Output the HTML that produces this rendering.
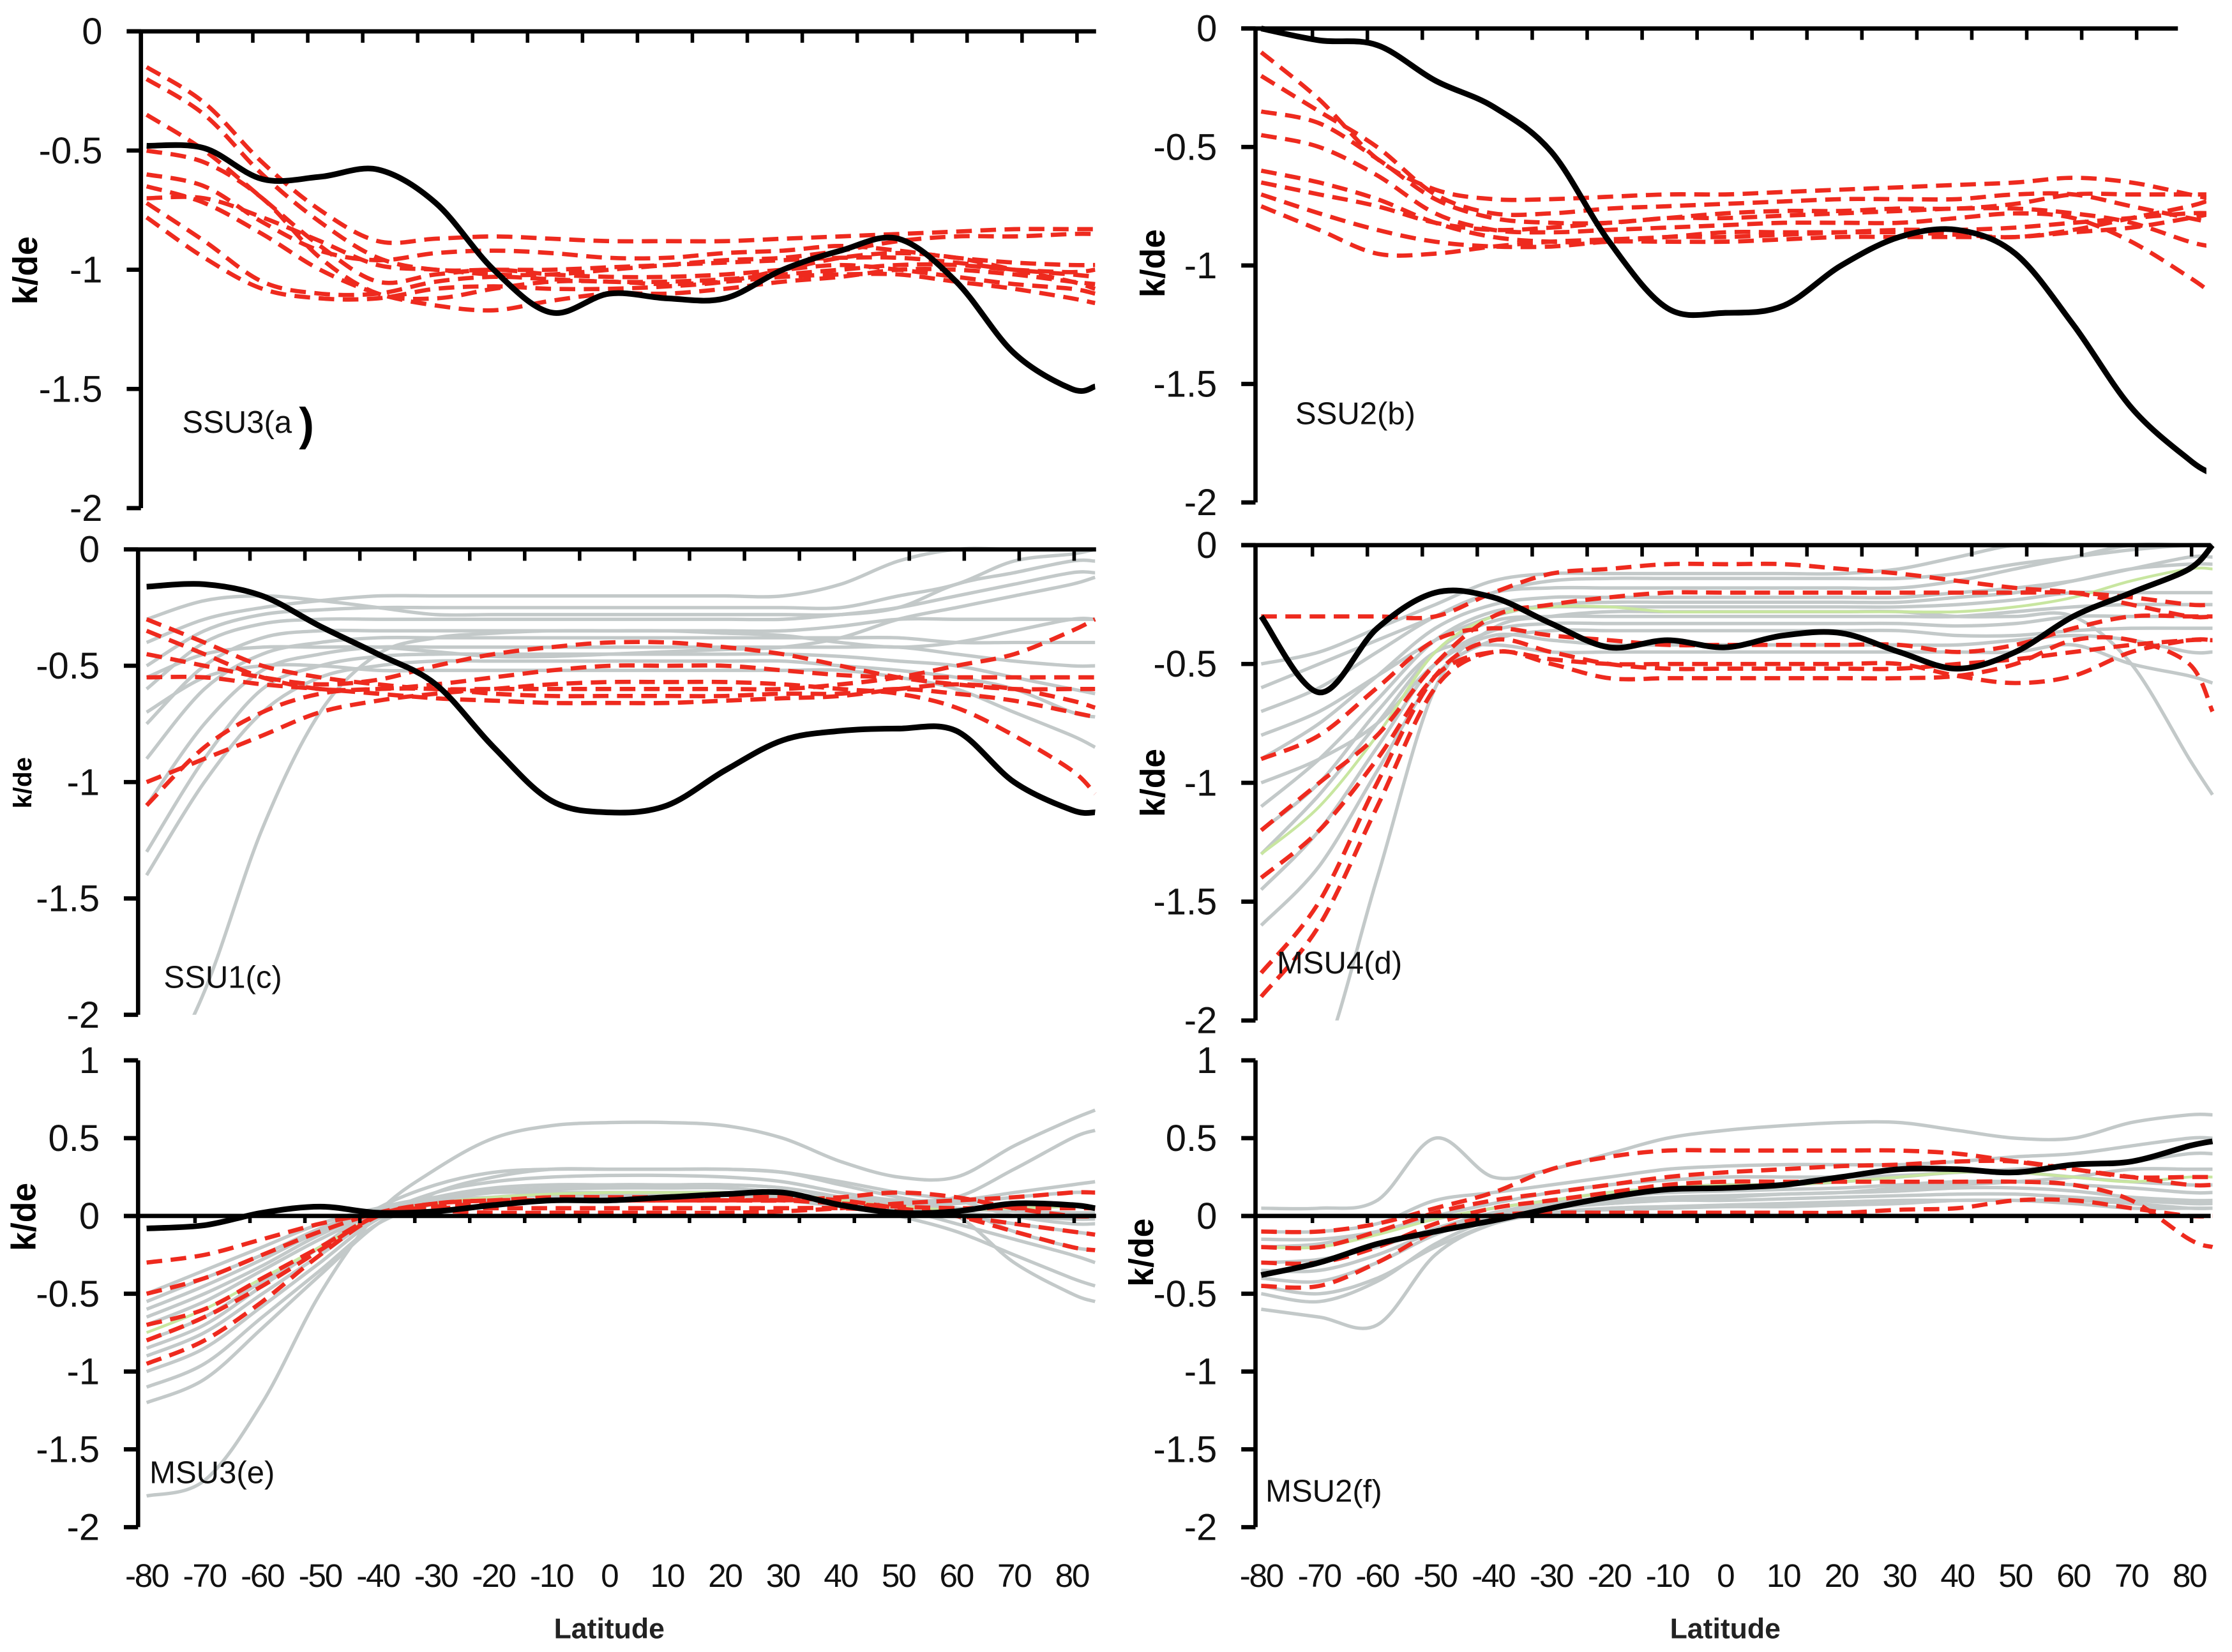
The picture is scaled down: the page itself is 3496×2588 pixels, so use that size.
<!DOCTYPE html>
<html><head><meta charset="utf-8"><style>html,body{margin:0;padding:0;background:#fff}svg{display:block}</style></head>
<body>
<svg id="chart" xmlns="http://www.w3.org/2000/svg" width="3496" height="2588" viewBox="0 0 1568 1160.7" font-family="Liberation Sans, sans-serif"></svg>
<script>
const lats=[-80,-70,-60,-50,-40,-30,-20,-10,0,10,20,30,40,50,60,70,80,84];
const xTickLabels=[-80,-70,-60,-50,-40,-30,-20,-10,0,10,20,30,40,50,60,70,80];
const yTicksNeg=[0,-0.5,-1,-1.5,-2];
const yTicksPos=[1,0.5,0,-0.5,-1,-1.5,-2];

const aBlack=[-0.48,-0.49,-0.62,-0.61,-0.58,-0.72,-1.0,-1.18,-1.1,-1.12,-1.12,-1.0,-0.92,-0.87,-1.05,-1.35,-1.5,-1.49];
const aRed=[
[-0.15,-0.3,-0.55,-0.75,-0.88,-0.87,-0.86,-0.87,-0.88,-0.88,-0.88,-0.87,-0.86,-0.85,-0.84,-0.83,-0.83,-0.83],
[-0.2,-0.35,-0.6,-0.8,-0.95,-1.0,-1.0,-1.0,-0.99,-0.98,-0.97,-0.96,-0.95,-0.95,-0.97,-1.0,-1.02,-1.03],
[-0.35,-0.5,-0.7,-0.9,-1.05,-1.02,-1.0,-1.02,-1.03,-1.03,-1.02,-1.0,-0.98,-1.0,-1.03,-1.06,-1.08,-1.1],
[-0.5,-0.55,-0.7,-0.95,-1.1,-1.12,-1.08,-1.05,-1.05,-1.06,-1.05,-1.03,-1.02,-1.02,-1.05,-1.08,-1.12,-1.14],
[-0.65,-0.72,-0.85,-1.0,-1.1,-1.15,-1.17,-1.13,-1.1,-1.1,-1.08,-1.05,-1.03,-1.0,-1.0,-1.02,-1.05,-1.06],
[-0.72,-0.88,-1.05,-1.1,-1.1,-1.05,-1.03,-1.04,-1.05,-1.05,-1.04,-1.02,-1.0,-0.98,-0.98,-1.0,-1.01,-1.0],
[-0.78,-0.95,-1.08,-1.12,-1.12,-1.08,-1.07,-1.08,-1.08,-1.07,-1.05,-1.0,-0.95,-0.93,-0.95,-1.0,-1.05,-1.08],
[-0.6,-0.65,-0.8,-0.92,-0.96,-0.93,-0.92,-0.93,-0.95,-0.95,-0.93,-0.92,-0.9,-0.92,-0.95,-0.97,-0.98,-0.98],
[-0.7,-0.7,-0.78,-0.88,-0.98,-1.0,-1.02,-1.02,-1.0,-0.98,-0.96,-0.95,-0.92,-0.88,-0.86,-0.86,-0.85,-0.85]];

const bBlack=[0.0,-0.05,-0.07,-0.22,-0.33,-0.52,-0.9,-1.18,-1.2,-1.17,-1.0,-0.88,-0.85,-0.95,-1.25,-1.6,-1.82,-1.88];
const bRed=[
[-0.1,-0.3,-0.55,-0.68,-0.72,-0.72,-0.71,-0.7,-0.7,-0.69,-0.68,-0.67,-0.66,-0.65,-0.63,-0.65,-0.7,-0.72],
[-0.2,-0.35,-0.5,-0.7,-0.78,-0.78,-0.76,-0.75,-0.74,-0.73,-0.72,-0.72,-0.72,-0.7,-0.7,-0.75,-0.8,-0.82],
[-0.35,-0.4,-0.55,-0.72,-0.8,-0.82,-0.82,-0.8,-0.8,-0.79,-0.78,-0.77,-0.76,-0.76,-0.78,-0.82,-0.9,-0.92],
[-0.45,-0.5,-0.62,-0.78,-0.85,-0.86,-0.85,-0.84,-0.83,-0.82,-0.82,-0.82,-0.8,-0.78,-0.8,-0.9,-1.05,-1.12],
[-0.6,-0.65,-0.72,-0.82,-0.88,-0.9,-0.9,-0.88,-0.88,-0.87,-0.86,-0.85,-0.85,-0.84,-0.82,-0.8,-0.78,-0.78],
[-0.7,-0.78,-0.85,-0.9,-0.92,-0.92,-0.9,-0.9,-0.9,-0.89,-0.88,-0.88,-0.88,-0.88,-0.86,-0.84,-0.8,-0.78],
[-0.75,-0.85,-0.95,-0.95,-0.92,-0.9,-0.89,-0.88,-0.86,-0.86,-0.86,-0.86,-0.87,-0.88,-0.85,-0.8,-0.75,-0.72],
[-0.65,-0.7,-0.75,-0.82,-0.85,-0.84,-0.82,-0.8,-0.78,-0.77,-0.77,-0.76,-0.76,-0.74,-0.7,-0.7,-0.7,-0.7]];

const cBlack=[-0.16,-0.15,-0.2,-0.33,-0.45,-0.58,-0.85,-1.08,-1.13,-1.1,-0.95,-0.82,-0.78,-0.77,-0.78,-1.0,-1.12,-1.13];
const cGray=[
[-0.4,-0.3,-0.25,-0.22,-0.2,-0.2,-0.2,-0.2,-0.2,-0.2,-0.2,-0.2,-0.15,-0.05,0,0,0,0],
[-0.5,-0.35,-0.28,-0.26,-0.25,-0.25,-0.25,-0.25,-0.25,-0.25,-0.25,-0.25,-0.25,-0.2,-0.15,-0.05,-0.02,0],
[-0.6,-0.4,-0.32,-0.3,-0.3,-0.3,-0.3,-0.3,-0.3,-0.3,-0.3,-0.3,-0.28,-0.25,-0.2,-0.15,-0.1,-0.1],
[-0.75,-0.5,-0.38,-0.35,-0.35,-0.35,-0.35,-0.35,-0.35,-0.35,-0.35,-0.35,-0.33,-0.3,-0.3,-0.3,-0.3,-0.3],
[-0.9,-0.6,-0.45,-0.4,-0.38,-0.38,-0.38,-0.38,-0.38,-0.38,-0.38,-0.38,-0.38,-0.38,-0.4,-0.4,-0.4,-0.4],
[-1.1,-0.75,-0.52,-0.45,-0.42,-0.42,-0.42,-0.42,-0.42,-0.42,-0.42,-0.42,-0.42,-0.42,-0.45,-0.48,-0.5,-0.5],
[-1.3,-0.9,-0.6,-0.5,-0.46,-0.45,-0.45,-0.45,-0.45,-0.45,-0.45,-0.45,-0.46,-0.48,-0.5,-0.55,-0.6,-0.62],
[-1.4,-1.0,-0.7,-0.55,-0.5,-0.48,-0.48,-0.48,-0.48,-0.48,-0.48,-0.48,-0.5,-0.52,-0.55,-0.6,-0.7,-0.72],
[-2.4,-1.9,-1.2,-0.7,-0.45,-0.38,-0.36,-0.35,-0.35,-0.35,-0.36,-0.37,-0.4,-0.42,-0.4,-0.35,-0.3,-0.3],
[-0.3,-0.22,-0.2,-0.22,-0.25,-0.28,-0.28,-0.28,-0.28,-0.28,-0.28,-0.28,-0.28,-0.25,-0.15,-0.1,-0.05,-0.05],
[-0.7,-0.55,-0.5,-0.5,-0.52,-0.52,-0.52,-0.52,-0.52,-0.52,-0.52,-0.52,-0.52,-0.55,-0.6,-0.7,-0.8,-0.85],
[-0.55,-0.45,-0.42,-0.42,-0.42,-0.44,-0.46,-0.46,-0.45,-0.44,-0.43,-0.42,-0.38,-0.3,-0.25,-0.2,-0.15,-0.12]];
const cRed=[
[-0.3,-0.4,-0.5,-0.55,-0.58,-0.6,-0.6,-0.6,-0.6,-0.6,-0.6,-0.6,-0.58,-0.55,-0.5,-0.45,-0.35,-0.3],
[-1.1,-0.85,-0.7,-0.62,-0.6,-0.6,-0.62,-0.63,-0.63,-0.63,-0.63,-0.62,-0.62,-0.6,-0.62,-0.65,-0.7,-0.72],
[-1.0,-0.9,-0.8,-0.7,-0.65,-0.62,-0.6,-0.58,-0.57,-0.57,-0.57,-0.58,-0.6,-0.62,-0.68,-0.8,-0.95,-1.05],
[-0.35,-0.45,-0.55,-0.6,-0.6,-0.58,-0.55,-0.52,-0.5,-0.5,-0.5,-0.52,-0.54,-0.55,-0.55,-0.55,-0.55,-0.55],
[-0.55,-0.55,-0.58,-0.6,-0.62,-0.64,-0.65,-0.66,-0.66,-0.66,-0.65,-0.64,-0.63,-0.6,-0.58,-0.6,-0.65,-0.68],
[-0.45,-0.5,-0.55,-0.58,-0.56,-0.5,-0.45,-0.42,-0.4,-0.4,-0.42,-0.45,-0.5,-0.55,-0.58,-0.6,-0.6,-0.6]];

const dBlack=[-0.3,-0.62,-0.35,-0.2,-0.22,-0.33,-0.43,-0.4,-0.43,-0.38,-0.37,-0.45,-0.52,-0.45,-0.3,-0.2,-0.1,0.0];
const dGray=[
[-0.5,-0.45,-0.35,-0.25,-0.15,-0.12,-0.12,-0.12,-0.12,-0.12,-0.12,-0.1,-0.05,0,0,0,0,0],
[-0.7,-0.6,-0.45,-0.3,-0.2,-0.18,-0.18,-0.18,-0.18,-0.18,-0.18,-0.18,-0.15,-0.1,-0.05,0,0,0],
[-0.9,-0.75,-0.55,-0.35,-0.25,-0.22,-0.22,-0.22,-0.22,-0.22,-0.22,-0.22,-0.2,-0.18,-0.15,-0.1,-0.05,-0.05],
[-1.1,-0.9,-0.65,-0.4,-0.28,-0.26,-0.26,-0.26,-0.26,-0.26,-0.26,-0.26,-0.25,-0.23,-0.2,-0.2,-0.2,-0.2],
[-1.3,-1.05,-0.75,-0.45,-0.32,-0.3,-0.3,-0.3,-0.3,-0.3,-0.3,-0.3,-0.3,-0.28,-0.26,-0.25,-0.25,-0.25],
[-1.45,-1.2,-0.85,-0.5,-0.36,-0.33,-0.33,-0.33,-0.33,-0.33,-0.33,-0.33,-0.34,-0.33,-0.3,-0.3,-0.3,-0.3],
[-1.6,-1.35,-0.95,-0.55,-0.4,-0.36,-0.36,-0.36,-0.36,-0.36,-0.36,-0.36,-0.38,-0.38,-0.36,-0.35,-0.35,-0.35],
[-1.0,-0.9,-0.75,-0.5,-0.38,-0.4,-0.42,-0.42,-0.42,-0.42,-0.42,-0.42,-0.42,-0.4,-0.38,-0.4,-0.45,-0.45],
[-2.4,-2.2,-1.4,-0.6,-0.35,-0.3,-0.28,-0.28,-0.28,-0.28,-0.28,-0.28,-0.3,-0.3,-0.3,-0.5,-0.9,-1.05],
[-0.6,-0.5,-0.4,-0.3,-0.2,-0.15,-0.14,-0.14,-0.14,-0.14,-0.14,-0.14,-0.12,-0.08,-0.05,-0.02,0,0],
[-1.2,-1.0,-0.7,-0.45,-0.42,-0.45,-0.45,-0.45,-0.45,-0.45,-0.45,-0.45,-0.45,-0.45,-0.42,-0.5,-0.55,-0.58],
[-0.8,-0.7,-0.55,-0.4,-0.3,-0.25,-0.24,-0.24,-0.24,-0.24,-0.24,-0.24,-0.22,-0.2,-0.15,-0.1,-0.08,-0.08]];
const dRed=[
[-1.9,-1.6,-1.1,-0.6,-0.45,-0.5,-0.56,-0.56,-0.56,-0.56,-0.56,-0.56,-0.55,-0.5,-0.4,-0.4,-0.5,-0.7],
[-1.8,-1.5,-1.0,-0.55,-0.4,-0.45,-0.5,-0.52,-0.52,-0.52,-0.52,-0.52,-0.5,-0.48,-0.45,-0.42,-0.4,-0.4],
[-1.2,-1.0,-0.8,-0.5,-0.3,-0.25,-0.22,-0.2,-0.2,-0.2,-0.2,-0.2,-0.2,-0.2,-0.2,-0.22,-0.25,-0.25],
[-0.3,-0.3,-0.3,-0.3,-0.2,-0.12,-0.1,-0.08,-0.08,-0.08,-0.1,-0.12,-0.15,-0.18,-0.2,-0.25,-0.3,-0.3],
[-0.9,-0.8,-0.6,-0.4,-0.35,-0.38,-0.4,-0.42,-0.42,-0.42,-0.42,-0.42,-0.45,-0.42,-0.35,-0.3,-0.3,-0.3],
[-1.4,-1.2,-0.9,-0.55,-0.45,-0.48,-0.5,-0.5,-0.5,-0.5,-0.5,-0.5,-0.55,-0.58,-0.55,-0.45,-0.4,-0.4]];
const dGreen=[-1.3,-1.1,-0.8,-0.45,-0.3,-0.26,-0.26,-0.28,-0.28,-0.28,-0.28,-0.28,-0.28,-0.26,-0.22,-0.15,-0.1,-0.1];

const eBlack=[-0.08,-0.06,0.02,0.06,0.02,0.03,0.07,0.1,0.1,0.12,0.14,0.15,0.07,0.02,0.03,0.08,0.07,0.05];
const eGray=[
[-0.5,-0.35,-0.2,-0.05,0.05,0.1,0.12,0.13,0.13,0.13,0.13,0.12,0.1,0.08,0.05,0.03,0.02,0.02],
[-0.6,-0.45,-0.28,-0.1,0.02,0.08,0.1,0.1,0.1,0.1,0.1,0.1,0.08,0.05,0.02,0,-0.02,-0.02],
[-0.7,-0.55,-0.35,-0.15,0.02,0.12,0.18,0.2,0.2,0.2,0.2,0.18,0.12,0.08,0.08,0.12,0.15,0.15],
[-0.8,-0.65,-0.42,-0.2,0,0.1,0.15,0.17,0.18,0.18,0.18,0.15,0.1,0.05,0,-0.05,-0.1,-0.12],
[-0.9,-0.75,-0.5,-0.25,0,0.15,0.22,0.25,0.26,0.26,0.25,0.22,0.15,0.1,0.1,0.15,0.2,0.22],
[-1.0,-0.85,-0.58,-0.3,-0.02,0.1,0.16,0.18,0.2,0.2,0.2,0.18,0.12,0.05,-0.05,-0.15,-0.25,-0.3],
[-1.1,-0.95,-0.65,-0.35,-0.05,0.08,0.12,0.14,0.15,0.15,0.15,0.13,0.08,0,-0.1,-0.25,-0.4,-0.45],
[-1.2,-1.05,-0.72,-0.38,-0.05,0.15,0.25,0.3,0.3,0.3,0.3,0.28,0.22,0.15,0.1,0.0,-0.05,-0.05],
[-1.8,-1.7,-1.2,-0.5,0.02,0.3,0.5,0.58,0.6,0.6,0.58,0.5,0.35,0.25,0.25,0.45,0.62,0.68],
[-0.55,-0.4,-0.25,-0.08,0.05,0.12,0.15,0.15,0.15,0.15,0.15,0.14,0.12,0.1,0.12,0.3,0.5,0.55],
[-0.85,-0.7,-0.45,-0.2,0.05,0.2,0.28,0.3,0.3,0.3,0.3,0.28,0.2,0.12,0.05,-0.1,-0.2,-0.22],
[-0.65,-0.5,-0.32,-0.12,0.03,0.08,0.1,0.1,0.1,0.1,0.1,0.1,0.06,0.03,0,-0.3,-0.5,-0.55]];
const eRed=[
[-0.7,-0.6,-0.4,-0.2,0,0.05,0.05,0.05,0.05,0.05,0.05,0.05,0.05,0.03,0,-0.05,-0.1,-0.12],
[-0.95,-0.8,-0.55,-0.25,0,0.08,0.1,0.12,0.12,0.12,0.12,0.12,0.1,0.05,0,-0.1,-0.2,-0.22],
[-0.5,-0.4,-0.25,-0.1,0.02,0.08,0.1,0.1,0.1,0.1,0.1,0.1,0.12,0.15,0.12,0.05,0,0],
[-0.8,-0.65,-0.45,-0.22,0,0.03,0.02,0.02,0.02,0.02,0.02,0.03,0.05,0.08,0.1,0.12,0.15,0.15],
[-0.3,-0.25,-0.15,-0.05,0.02,0.06,0.08,0.1,0.1,0.1,0.1,0.1,0.08,0.06,0.05,0.05,0.05,0.05]];
const eGreen=[-0.75,-0.6,-0.4,-0.2,0,0.08,0.12,0.14,0.15,0.15,0.15,0.14,0.1,0.06,0.04,0.05,0.06,0.06];

const fBlack=[-0.38,-0.3,-0.18,-0.1,-0.03,0.05,0.12,0.17,0.18,0.2,0.25,0.3,0.3,0.28,0.33,0.35,0.45,0.48];
const fGray=[
[-0.2,-0.18,-0.1,-0.02,0.05,0.1,0.15,0.18,0.2,0.2,0.22,0.25,0.28,0.28,0.25,0.22,0.2,0.2],
[-0.3,-0.28,-0.2,-0.08,0.02,0.08,0.12,0.15,0.16,0.17,0.18,0.2,0.22,0.22,0.2,0.18,0.15,0.15],
[-0.4,-0.42,-0.3,-0.12,0,0.06,0.1,0.12,0.13,0.14,0.15,0.16,0.18,0.18,0.16,0.12,0.1,0.1],
[-0.5,-0.55,-0.42,-0.18,-0.02,0.05,0.08,0.1,0.1,0.11,0.12,0.13,0.14,0.14,0.12,0.1,0.08,0.08],
[-0.6,-0.65,-0.7,-0.25,-0.05,0.02,0.05,0.06,0.07,0.08,0.09,0.1,0.1,0.1,0.08,0.05,0.05,0.05],
[0.05,0.05,0.1,0.5,0.25,0.3,0.4,0.5,0.55,0.58,0.6,0.6,0.55,0.5,0.5,0.6,0.65,0.65],
[-0.1,-0.1,-0.05,0.1,0.15,0.2,0.25,0.3,0.32,0.33,0.33,0.33,0.35,0.38,0.4,0.45,0.5,0.5],
[-0.15,-0.15,-0.1,0,0.08,0.15,0.2,0.23,0.25,0.25,0.25,0.26,0.28,0.3,0.32,0.35,0.4,0.4],
[-0.35,-0.35,-0.25,-0.1,0.0,0.05,0.08,0.1,0.12,0.14,0.15,0.18,0.2,0.22,0.25,0.3,0.3,0.3],
[-0.45,-0.5,-0.4,-0.2,-0.05,0.02,0.04,0.05,0.06,0.06,0.07,0.08,0.1,0.1,0.1,0.08,0.05,0.05]];
const fRed=[
[-0.1,-0.1,-0.05,0.05,0.15,0.3,0.38,0.42,0.42,0.42,0.42,0.42,0.4,0.35,0.3,0.25,0.25,0.25],
[-0.3,-0.3,-0.2,-0.05,0.05,0.1,0.15,0.2,0.22,0.22,0.22,0.22,0.22,0.22,0.2,0.1,-0.15,-0.2],
[-0.45,-0.45,-0.3,-0.1,0,0.02,0.02,0.02,0.02,0.02,0.02,0.04,0.05,0.1,0.1,0.05,0,0],
[-0.2,-0.2,-0.1,0.02,0.1,0.15,0.2,0.25,0.28,0.3,0.32,0.33,0.35,0.35,0.3,0.25,0.2,0.2]];
const fGreen=[-0.2,-0.2,-0.12,-0.02,0.05,0.1,0.15,0.18,0.2,0.2,0.22,0.25,0.28,0.28,0.25,0.22,0.25,0.25];

const NS='http://www.w3.org/2000/svg';
const svg=document.getElementById('chart');
function mk(tag,attrs,parent){const e=document.createElementNS(NS,tag);for(const k in attrs)e.setAttribute(k,attrs[k]);(parent||svg).appendChild(e);return e;}

const panels=[
 {id:'a',label:'SSU3(a',ax:99,top:22,bot:357,ymax:0,ticks:yTicksNeg,lx0:103,lx1:753,endX:770,lab:[128,304],gray:[],red:aRed,green:null,black:aBlack,paren:true,ylab:[26,190],ysize:24},
 {id:'b',label:'SSU2(b)',ax:882,top:20,bot:353,ymax:0,ticks:yTicksNeg,lx0:886,lx1:1538,endX:1530,lab:[910,298],gray:[],red:bRed,green:null,black:bBlack,ylab:[818,185],ysize:24},
 {id:'c',label:'SSU1(c)',ax:97,top:386,bot:713,ymax:0,ticks:yTicksNeg,lx0:103,lx1:753,endX:770,lab:[115,694],gray:cGray,red:cRed,green:null,black:cBlack,ylab:[22,550],ysize:18},
 {id:'d',label:'MSU4(d)',ax:882,top:383,bot:717,ymax:0,ticks:yTicksNeg,lx0:886,lx1:1538,endX:1553,lab:[897,684],gray:dGray,red:dRed,green:dGreen,black:dBlack,ylab:[818,550],ysize:24},
 {id:'e',label:'MSU3(e)',ax:97,top:745,bot:1073,ymax:1,ticks:yTicksPos,lx0:103,lx1:753,endX:770,lab:[105,1042],gray:eGray,red:eRed,green:eGreen,black:eBlack,ylab:[25,855],ysize:24,zero:true},
 {id:'f',label:'MSU2(f)',ax:882,top:745,bot:1073,ymax:1,ticks:yTicksPos,lx0:886,lx1:1538,endX:1553,lab:[889,1055],gray:fGray,red:fRed,green:fGreen,black:fBlack,ylab:[810,880],ysize:24,zero:true}
];

function pathFrom(xs,ys){
 let d='M'+xs[0].toFixed(1)+' '+ys[0].toFixed(1);
 for(let i=0;i<xs.length-1;i++){
  const x0=xs[Math.max(i-1,0)],y0=ys[Math.max(i-1,0)],x1=xs[i],y1=ys[i],x2=xs[i+1],y2=ys[i+1],x3=xs[Math.min(i+2,xs.length-1)],y3=ys[Math.min(i+2,xs.length-1)];
  const c1x=x1+(x2-x0)/6,c1y=y1+(y2-y0)/6,c2x=x2-(x3-x1)/6,c2y=y2-(y3-y1)/6;
  d+=' C'+c1x.toFixed(1)+' '+c1y.toFixed(1)+' '+c2x.toFixed(1)+' '+c2y.toFixed(1)+' '+x2.toFixed(1)+' '+y2.toFixed(1);
 }
 return d;
}

panels.forEach(p=>{
 const g=mk('g',{});
 
 
 const ymin=-2;
 const ys=v=>p.top+(p.ymax-v)/(p.ymax-ymin)*(p.bot-p.top);
 const xs=lat=>p.lx0+(lat+80)*(p.lx1-p.lx0)/160;
 const clipId='clip'+p.id;
 const cp=mk('clipPath',{id:clipId},g);
 mk('rect',{x:p.ax,y:p.top-6,width:p.endX-p.ax+20,height:p.bot-p.top+6},cp);
 const lines=mk('g',{'clip-path':'url(#'+clipId+')'},g);
 const xpts=lats.map(xs);
 const draw=(arr,name,style)=>{
  const el=mk('path',Object.assign({d:pathFrom(xpts,arr.map(ys)),fill:'none'},style),lines);
  
  
 };
 p.gray.forEach((s,i)=>draw(s,'model-line-gray-'+(i+1),{stroke:'#c3c9c9','stroke-width':2.4}));
 if(p.green) draw(p.green,'model-mean-green',{stroke:'#c8e6a0','stroke-width':2});
 p.red.forEach((s,i)=>draw(s,'model-line-red-'+(i+1),{stroke:'#ee2a1e','stroke-width':3,'stroke-dasharray':'11 6'}));
 draw(p.black,'observation-line',{stroke:'#000','stroke-width':4,'stroke-linejoin':'round'});
 const ya=mk('line',{x1:p.ax,y1:p.top,x2:p.ax,y2:p.bot,stroke:'#000','stroke-width':3},g);
 
 
 const zeroY=ys(0);
 const xa=mk('line',{x1:p.ax-10,y1:zeroY,x2:p.endX,y2:zeroY,stroke:'#000','stroke-width':3},g);
 
 
 for(let t=p.ax+40;t<p.endX-4;t+=38.6){mk('line',{x1:t,y1:zeroY,x2:t,y2:zeroY+(p.zero?5:8),stroke:'#000','stroke-width':2.5},g);}
 p.ticks.forEach(v=>{
  const y=ys(v);
  mk('line',{x1:p.ax-10,y1:y,x2:p.ax,y2:y,stroke:'#000','stroke-width':3},g);
  const t=mk('text',{x:p.ax-27,y:y+9,'text-anchor':'end','font-size':26,fill:'#111'},g);
  t.textContent=String(v);
  
  
 });
 const yl=mk('text',{x:p.ylab[0],y:p.ylab[1],'text-anchor':'middle','font-size':p.ysize,'font-weight':'bold',transform:'rotate(-90 '+p.ylab[0]+' '+p.ylab[1]+')'},g);
 yl.textContent='k/de';
 
 
 const pl=mk('text',{x:p.lab[0],y:p.lab[1],'font-size':22,fill:'#111'},g);
 pl.textContent=p.label;
 
 
 if(p.paren){const pp=mk('text',{x:p.lab[0]+82,y:p.lab[1]+5,'font-size':32,'font-weight':'bold'},g);pp.textContent=')';}
 if(p.id==='e'||p.id==='f'){
  xTickLabels.forEach(v=>{
   const t=mk('text',{x:xs(v),y:1115,'text-anchor':'middle','font-size':23,'letter-spacing':'-1',fill:'#111'},g);
   t.textContent=String(v);
   
   
  });
  const xt=mk('text',{x:(p.lx0+p.lx1)/2,y:1151,'text-anchor':'middle','font-size':20,'font-weight':'bold',fill:'#222'},g);
  xt.textContent='Latitude';
  
  
 }
});
</script>
</body></html>
